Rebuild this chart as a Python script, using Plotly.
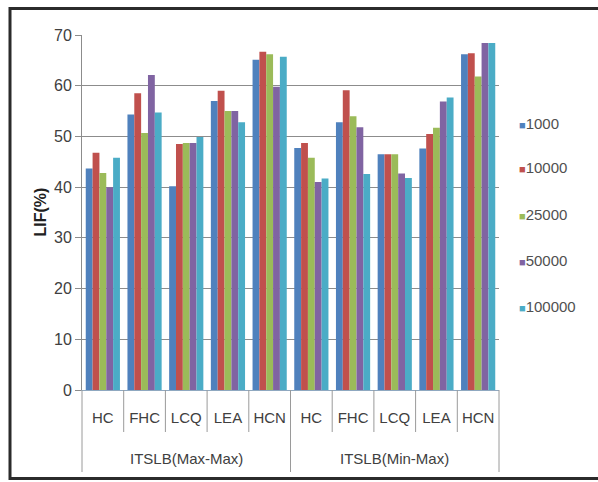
import plotly.graph_objects as go

# Scheduling strategies (outer level) and heuristics (inner level)
strategies = ["ITSLB(Max-Max)", "ITSLB(Min-Max)"]
heuristics = ["HC", "FHC", "LCQ", "LEA", "HCN"]

# Number of iterations shown as separate series
series_names = ["1000", "10000", "25000", "50000", "100000"]
series_colors = ["#4F81BD", "#C0504D", "#9BBB59", "#8064A2", "#4BACC6"]

# LIF (%) per series, ordered HC..HCN for Max-Max then HC..HCN for Min-Max
lif_1000 = [43.7, 54.3, 40.2, 57.0, 65.1, 47.7, 52.8, 46.5, 47.6, 66.2]
lif_10000 = [46.8, 58.5, 48.5, 59.0, 66.7, 48.7, 59.1, 46.5, 50.5, 66.4]
lif_25000 = [42.8, 50.7, 48.7, 55.0, 66.2, 45.8, 54.0, 46.5, 51.7, 61.8]
lif_50000 = [40.0, 62.1, 48.7, 55.0, 59.8, 41.0, 51.8, 42.7, 56.9, 68.4]
lif_100000 = [45.8, 54.7, 49.9, 52.8, 65.7, 41.7, 42.6, 41.8, 57.7, 68.4]
series_values = [lif_1000, lif_10000, lif_25000, lif_50000, lif_100000]

y_ticks = [0, 10, 20, 30, 40, 50, 60, 70]

FONT = "Liberation Sans, Arial, sans-serif"
W, H = 598, 482
ML, MR, MT, MB = 82, 99, 35, 92
PW, PH = W - ML - MR, H - MT - MB

# One slot per (strategy, heuristic) pair along the x axis
inner = [h for _ in strategies for h in heuristics]
n_cat = len(inner)
slots = list(range(n_cat))

fig = go.Figure()
for name, color, vals in zip(series_names, series_colors, series_values):
    fig.add_trace(go.Bar(
        x=slots, y=vals, name=name,
        marker=dict(color=color, line=dict(width=0)),
        showlegend=False,
    ))


def px_x(p):
    return (p - ML) / PW


def px_y(p):
    return (H - MB - p) / PH


DIV = "#9a9a9a"
shapes = []
# Separators between heuristics and, longer, between strategies
for i in range(n_cat + 1):
    long_line = i % len(heuristics) == 0
    shapes.append(dict(
        type="line", xref="x domain", yref="paper",
        x0=i / n_cat, x1=i / n_cat, y0=0,
        y1=px_y(472 if long_line else 432),
        line=dict(color=DIV, width=1),
    ))

# Outer frame around the whole chart
shapes.append(dict(type="rect", xref="paper", yref="paper",
                   x0=px_x(10), x1=px_x(610), y0=px_y(478.5), y1=px_y(8.5),
                   line=dict(color="#2b2b2b", width=3), layer="above"))

annotations = []
# Strategy labels under each block of heuristics
for k, s in enumerate(strategies):
    annotations.append(dict(
        xref="x domain", yref="paper", x=(k + 0.5) / len(strategies),
        y=px_y(458), xanchor="center", yanchor="middle", showarrow=False,
        text=s, font=dict(family=FONT, size=15, color="#404040"),
    ))

# Legend drawn as text entries on the right
legend_y = [123, 168, 214, 260, 306]
for name, color, yy in zip(series_names, series_colors, legend_y):
    annotations.append(dict(
        xref="paper", yref="paper", x=px_x(517), y=px_y(yy),
        xanchor="left", yanchor="middle", showarrow=False,
        text=f'<span style="font-size:11px;color:{color}">■</span>{name}',
        font=dict(family=FONT, size=15, color="#505050"),
    ))

# Y-axis title
annotations.append(dict(
    xref="paper", yref="paper", x=px_x(40), y=0.5, textangle=-90,
    xanchor="center", yanchor="middle", showarrow=False,
    text="<b>LIF(%)</b>", font=dict(family=FONT, size=16, color="#202020"),
))

fig.update_layout(
    width=W, height=H,
    margin=dict(l=ML, r=MR, t=MT, b=MB, autoexpand=False),
    paper_bgcolor="white", plot_bgcolor="white",
    barmode="group", bargap=0.18, bargroupgap=0,
    font=dict(family=FONT, size=15, color="#404040"),
    shapes=shapes, annotations=annotations,
    showlegend=False,
)
fig.update_yaxes(
    range=[0, 70], tickvals=y_ticks, showgrid=True, gridcolor="#8c8c8c",
    gridwidth=1, showline=True, linecolor="#8c8c8c", linewidth=1,
    ticks="outside", ticklen=6, tickcolor="#8c8c8c",
    tickfont=dict(family=FONT, size=16, color="#404040"),
    zeroline=False, fixedrange=True, automargin=False,
)
fig.update_xaxes(
    range=[-0.5, n_cat - 0.5], tickvals=slots, ticktext=inner,
    showline=True, linecolor="#8fa8c0", linewidth=1, ticks="",
    tickangle=0, ticklabelstandoff=14,
    tickfont=dict(family=FONT, size=15, color="#404040"),
    showgrid=False, zeroline=False, automargin=False, fixedrange=True,
)

fig.write_html("out.html")
